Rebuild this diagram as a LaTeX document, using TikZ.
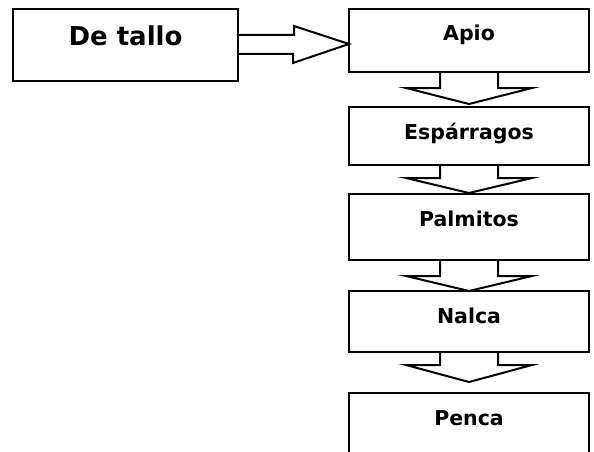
\documentclass[tikz,border=0pt]{standalone}
\usepackage{fontspec}
\setmainfont{DejaVu Sans}
\usetikzlibrary{positioning}

\begin{document}
\begin{tikzpicture}[x=1pt,y=1pt,
  box/.style={draw,line width=2pt,minimum width=240pt,anchor=north west,outer sep=0pt,inner sep=0pt},
  lbl/.style={anchor=base,font=\bfseries\fontsize{20.5}{24}\selectfont},
  blk/.style={draw,line width=2pt,line join=miter}]
\clip (0,0) rectangle (594,-452);
\node[box,minimum width=225pt,minimum height=72pt] at (13,-9) (tallo) {}
    node at ([yshift=-37]tallo.north)[anchor=base,font=\bfseries\fontsize{26}{30}\selectfont]{De tallo};
\foreach \n/\t/\y/\h in {
 apio/Apio/9/63,
 esp/Espárragos/107/58,
 palm/Palmitos/194/66,
 nalca/Nalca/291/61,
 penca/Penca/393/80
}
\node[box,minimum height=\h pt] at (349,-\y) (\n) {}
    node at ([yshift=-32]\n.north)[lbl]{\t};
% flecha de tallo a apio
\draw[blk] ([yshift=10]tallo.east) -- ++(56,0) -- ++(0,9) -- ([yshift=-3.5]apio.west)
    -- ++(-56,-19) -- ++(0,9) -- ([yshift=-9]tallo.east);
% flechas hacia abajo
\foreach \a/\b/\s/\g in {apio/esp/16/3, esp/palm/13/1, palm/nalca/16/0, nalca/penca/13/11}{
\path (\a.south) ++(0,-\s) coordinate (m);
\draw[blk] ([xshift=-29]\a.south) -- ([xshift=-29]m) -- ([xshift=-63]m) -- ([yshift=\g]\b.north)
    -- ([xshift=63]m) -- ([xshift=29]m) -- ([xshift=29]\a.south);
}
\end{tikzpicture}
\end{document}
